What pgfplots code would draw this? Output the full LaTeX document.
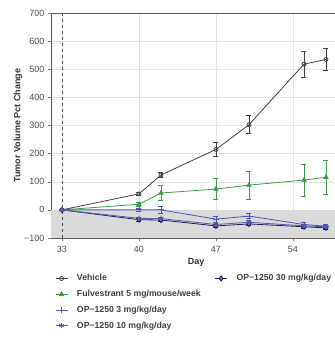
\documentclass[border=0pt]{standalone}
\usepackage{pgfplots}
\pgfplotsset{compat=1.18}
\usepackage{fontspec}
\setmainfont{Liberation Sans}
\definecolor{veh}{HTML}{404040}
\definecolor{fulv}{HTML}{3A9A4A}
\definecolor{opthree}{HTML}{4A55B8}
\definecolor{opten}{HTML}{5A5AA8}
\definecolor{opthirty}{HTML}{1E1E5E}
\definecolor{gridc}{HTML}{E4E4E4}
\definecolor{shadec}{HTML}{DADADA}
\begin{document}
\begin{tikzpicture}
\begin{axis}[
  name=ax,
  scale only axis,
  width=319pt, height=225pt,
  xmin=32, xmax=61, ymin=-100, ymax=700,
  xtick={33,40,47,54},
  ytick={-100,0,100,200,300,400,500,600,700},
  yticklabels={−100,0,100,200,300,400,500,600,700},
  grid=major,
  grid style={gridc, line width=0.5pt},
  axis line style={draw=black!65, line width=0.8pt},
  tick style={draw=black!50, line width=0.5pt},
  tick align=outside,
  xtick pos=bottom, ytick pos=left,
  major tick length=3pt,
  /pgf/number format/assume math mode=true,
  ticklabel style={font=\fontsize{9}{10}\selectfont, text=black!70},
  xticklabel style={yshift=-2pt},
  xlabel={Day},
  ylabel={Tumor Volume Pct Change},
  xlabel style={font=\bfseries\fontsize{9}{10}\selectfont, text=black!80, at={(axis description cs:0.455,-0.107)}, anchor=center},
  ylabel style={font=\bfseries\fontsize{9}{10}\selectfont, text=black!80, at={(axis description cs:-0.103,0.5)}, anchor=center},
  legend style={draw=none, fill=none, at={(axis description cs:0.0125,-0.153)}, anchor=north west,
    font=\bfseries\fontsize{8.7}{10}\selectfont, text=black!75, inner sep=0pt, row sep=3.9pt,
    /tikz/every even column/.append style={column sep=12pt}},
  legend columns=2,
  legend cell align=left,
  legend image code/.code={\draw[#1] (0pt,0pt) -- (12pt,0pt); \draw[#1, mark repeat=2, mark phase=2] plot coordinates {(0pt,0pt) (6pt,0pt) (12pt,0pt)}; \path (19pt,0pt);},
]
\fill[shadec] (axis cs:32,-100) rectangle (axis cs:61,0);
\draw[black!70, dashed, line width=0.9pt] (axis cs:33,-100) -- (axis cs:33,700);

\addplot[veh, line width=0.8pt, mark=o, mark size=2pt,
  error bars/.cd, y dir=both, y explicit, error bar style={line width=0.7pt}, error mark options={rotate=90, mark size=2.5pt, line width=0.7pt}]
  coordinates {(33,0) +- (0,0) (40,57) +- (0,6) (42,124) +- (0,8) (47,215) +- (0,25) (50,303) +- (0,32) (55,518) +- (0,46) (57,535) +- (0,40)};
\addlegendentry{Vehicle}
\addplot[opthirty, line width=0.8pt, mark=diamond*, mark size=2.6pt, mark options={fill=opthirty!60}, 
  error bars/.cd, y dir=both, y explicit, error bar style={line width=0.7pt}, error mark options={rotate=90, mark size=2.5pt, line width=0.7pt}]
  coordinates {(33,0) +- (0,0) (40,-35) +- (0,5) (42,-36) +- (0,5) (47,-57) +- (0,6) (50,-50) +- (0,6) (55,-60) +- (0,5) (57,-64) +- (0,5)};
\addlegendentry{OP−1250 30 mg/kg/day}
\addplot[fulv, line width=0.8pt, mark=triangle*, mark size=2.4pt,
  error bars/.cd, y dir=both, y explicit, error bar style={line width=0.7pt}, error mark options={rotate=90, mark size=2.5pt, line width=0.7pt}]
  coordinates {(33,0) +- (0,0) (40,20) +- (0,8) (42,60) +- (0,27) (47,74) +- (0,38) (50,88) +- (0,50) (55,106) +- (0,57) (57,116) +- (0,60)};
\addlegendentry{Fulvestrant 5 mg/mouse/week}
\addlegendimage{empty legend}\addlegendentry{}
\addplot[opthree, line width=0.8pt, mark=+, mark size=2.6pt,
  error bars/.cd, y dir=both, y explicit, error bar style={line width=0.7pt}, error mark options={rotate=90, mark size=2.5pt, line width=0.7pt}]
  coordinates {(33,0) +- (0,0) (40,0) +- (0,4) (42,0) +- (0,14) (47,-33) +- (0,10) (50,-22) +- (0,8) (55,-52) +- (0,7) (57,-58) +- (0,6)};
\addlegendentry{OP−1250 3 mg/kg/day}
\addlegendimage{empty legend}\addlegendentry{}
\addplot[opten, line width=0.8pt, mark=asterisk, mark size=2.6pt,
  error bars/.cd, y dir=both, y explicit, error bar style={line width=0.7pt}, error mark options={rotate=90, mark size=2.5pt, line width=0.7pt}]
  coordinates {(33,0) +- (0,0) (40,-30) +- (0,5) (42,-31) +- (0,5) (47,-52) +- (0,6) (50,-44) +- (0,6) (55,-57) +- (0,5) (57,-60) +- (0,5)};
\addlegendentry{OP−1250 10 mg/kg/day}
\end{axis}
\pgfresetboundingbox
\path[use as bounding box] (ax.south west) ++(-51pt,-100pt) rectangle ++(335pt,338pt);
\end{tikzpicture}
\end{document}
